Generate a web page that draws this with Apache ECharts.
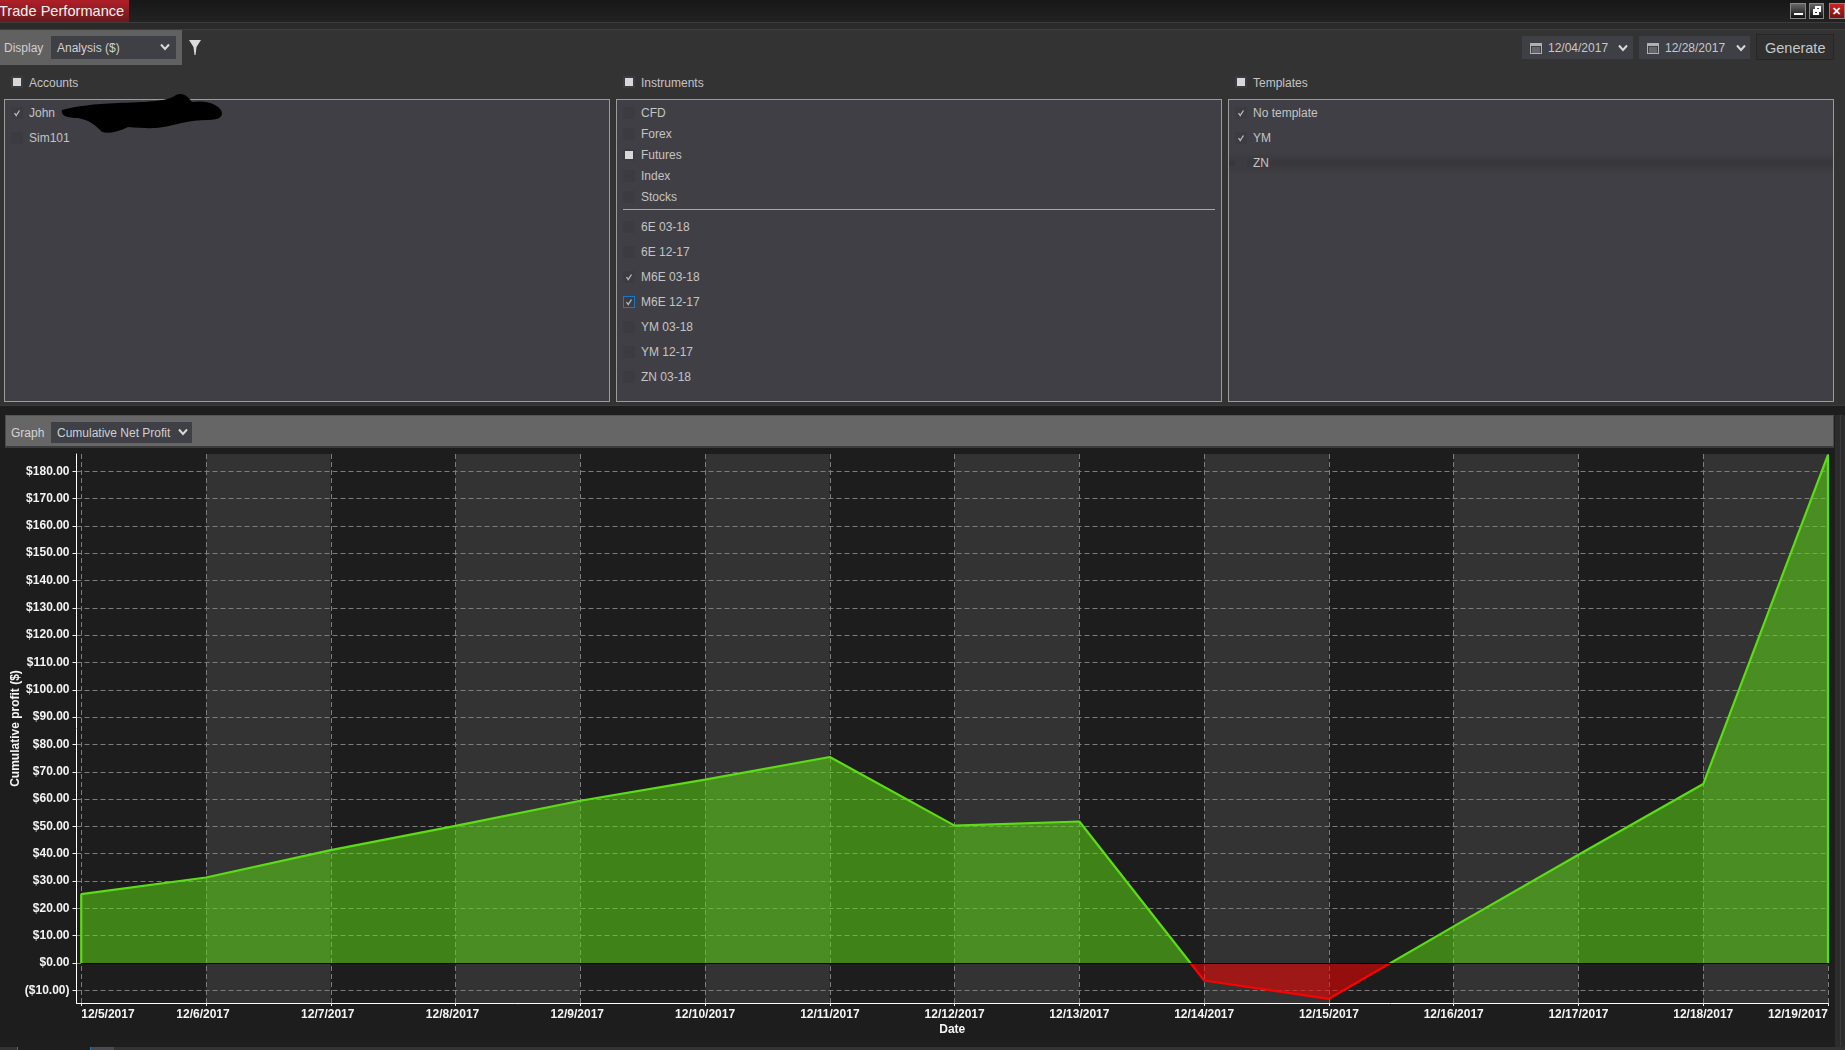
<!DOCTYPE html>
<html><head><meta charset="utf-8">
<script src="https://cdn.jsdelivr.net/npm/echarts@6/dist/echarts.min.js"></script>
<style>
html,body{margin:0;padding:0;width:1845px;height:1050px;overflow:hidden;background:#1e1e1e;font-family:"Liberation Sans",Arial,sans-serif}
.a{position:absolute;box-sizing:border-box}
.t{position:absolute;white-space:nowrap;color:#c4c4c4;font-size:12px;line-height:16px;transform:translateY(-50%)}
#chart{position:absolute;left:0;top:448px;width:1834px;height:592px}
svg{position:absolute;overflow:visible}
</style></head><body>
<div id="ui"></div>
<div id="chart"></div>
<script>
// Chart data
const dateLabels = ['12/5/2017','12/6/2017','12/7/2017','12/8/2017','12/9/2017','12/10/2017','12/11/2017','12/12/2017','12/13/2017','12/14/2017','12/15/2017','12/16/2017','12/17/2017','12/18/2017','12/19/2017'];
const dayIndex = [0,0,1,2,3,4,5,6,7,8,9,10,11,12,13,14,14];
const cumulativeProfit = [0,25.2,31.3,41.3,50.2,59.4,67.1,75.4,50.3,51.8,-6.4,-13.1,13.4,39.6,65.5,186,0];
const dayTicks = [0,1,2,3,4,5,6,7,8,9,10,11,12,13,14];
const profitTicks = [-10,0,10,20,30,40,50,60,70,80,90,100,110,120,130,140,150,160,170,180];

// Panel lists
const accounts = ['John','Sim101'];
const instrumentTypes = ['CFD','Forex','Futures','Index','Stocks'];
const instruments = ['6E 03-18','6E 12-17','M6E 03-18','M6E 12-17','YM 03-18','YM 12-17','ZN 03-18'];
const templates = ['No template','YM','ZN'];

const ui = document.getElementById('ui');
function box(x,y,w,h,css){const d=document.createElement('div');d.className='a';d.style.cssText=`left:${x}px;top:${y}px;width:${w}px;height:${h}px;`+(css||'');ui.appendChild(d);return d;}
function text(s,x,y,size,color){const d=document.createElement('div');d.className='t';d.textContent=s;d.style.left=x+'px';d.style.top=y+'px';if(size)d.style.fontSize=size+'px';if(color)d.style.color=color;ui.appendChild(d);return d;}
function svg(x,y,w,h,inner){const d=document.createElement('div');d.innerHTML=`<svg xmlns="http://www.w3.org/2000/svg" style="left:${x}px;top:${y}px" width="${w}" height="${h}" viewBox="0 0 ${w} ${h}">${inner}</svg>`;ui.appendChild(d);}
function chev(x,y,c){svg(x,y,10,8,`<polyline points="1,1.5 5,6 9,1.5" fill="none" stroke="${c||'#d8d8d8'}" stroke-width="2"/>`);}
function cb(x,yc,state){ // checkbox tile: '', 'check', 'square', 'focus'
  box(x,yc-6,12,12,'background:#3b3b41;'+(state==='focus'?'border:1px solid #1a78c8;':''));
  if(state==='square')box(x+2,yc-4,8,8,'background:#d8d8d8');
  if(state==='check'||state==='focus')svg(x+3,yc-3,6,6,'<polyline points="0.5,3 2.2,5.5 5.5,0.5" fill="none" stroke="#bdbdbd" stroke-width="1.3"/>');
}
function cal(x,y){svg(x,y,12,11,'<rect x="0.5" y="0.5" width="11" height="10" fill="none" stroke="#b0b0b0"/><rect x="0" y="0" width="12" height="3" fill="#b0b0b0"/><path d="M2 5H10M2 7H10M2 9H10" stroke="#8d8d8d"/>');}

// background
box(0,0,1845,22,'background:linear-gradient(#171717,#222)');
box(0,22,1845,7,'background:#2a2a2a;border-top:1px solid #3c3c3c');
box(0,29,1845,376,'background:#333;border-top:1px solid #3e3e3e');
box(0,405,1845,10,'background:#1e1e1e;border-top:1px solid #3a3a3a');
box(1834,415,11,635,'background:#2c2c2c;border-left:1px solid #1e1e1e');
box(1840,415,1,635,'background:#3a3a3a');

// title bar
box(0,0,129,22,'background:linear-gradient(#b01f27,#6b191e)');
text('Trade Performance',-1,10.5,14.6,'#f2f2f2');
box(1790,3,16,16,'background:linear-gradient(#666,#111);border:1px solid #888');
box(1794,13,9,2,'background:#fff');
box(1809,3,15,16,'background:linear-gradient(#666,#111);border:1px solid #888');
box(1813,9,6,6,'border:2px solid #fff');box(1815,6,6,6,'border:2px solid #fff');
box(1829,3,16,16,'background:linear-gradient(#c22,#711);border:1px solid #888');
text('✕',1832,11,11,'#fff').style.fontWeight='bold';

// display row
box(0,30,182,35,'background:#616161');
text('Display',4,48,12,'#cfcfcf');
box(51,36,125,23,'background:#3f3f46');
text('Analysis ($)',57,47.5,12,'#d0d0d0');
chev(160,43);
svg(189,40,12,15,'<polygon points="0,0 12,0 7.5,7 6.5,15 5.5,15 4.5,7" fill="#dcdcdc"/>');

// dates and generate
box(1522,36,111,23,'background:#3f3f46');cal(1530,43);text('12/04/2017',1548,47.5,12,'#c8c8c8');chev(1618,44);
box(1639,36,111,23,'background:#3f3f46');cal(1647,43);text('12/28/2017',1665,47.5,12,'#c8c8c8');chev(1736,44);
box(1756,34,78,26,'background:#303030;border:1px solid #262626');
text('Generate',1765,47.5,14.5,'#c8c8c8');

// section headers
[[11,29,'Accounts'],[623,641,'Instruments'],[1235,1253,'Templates']].forEach(h=>{cb(h[0],82,'square');text(h[2],h[1],82.5);});
[[4,606],[616,606],[1228,606]].forEach(p=>box(p[0],99,p[1],303,'background:#3f3f45;border:1px solid #9b9b9b'));

// accounts
cb(11,112.5,'check');text(accounts[0],29,112.7);
svg(58,94,170,40,'<path d="M4 16 C20 12 35 10 60 9 C85 8 110 8 118 1 C126 -2 130 3 134 8 C150 6 158 10 163 16 C166 22 162 26 150 26 C130 26 118 31 105 33 C95 35 85 34 70 33 C60 38 50 40 44 38 C38 32 34 27 20 24 C10 24 2 22 4 16 Z" fill="#000"/>');
cb(11,137.7,'');text(accounts[1],29,137.7);

// instruments
const typeY=[112.7,133.7,154.7,175.7,196.7];
instrumentTypes.forEach((s,i)=>{cb(623,typeY[i],s==='Futures'?'square':'');text(s,641,typeY[i]);});
box(623,209,592,1,'background:#a8a8a8');
const instrY=[226.7,251.7,276.7,301.7,326.7,351.7,376.7];
instruments.forEach((s,i)=>{cb(623,instrY[i],s==='M6E 03-18'?'check':s==='M6E 12-17'?'focus':'');text(s,641,instrY[i]);});

// templates
const tmplY=[112.7,137.7,163];
box(1229,152,604,22,'background:linear-gradient(#3f3f45,#37373b 50%,#3f3f45)');
templates.forEach((s,i)=>{cb(1235,tmplY[i],i<2?'check':'');text(s,1253,tmplY[i]);});

// graph header
box(5,415,1829,33,'background:#666;border:1px solid #4a4a4a;border-bottom:2px solid #3a3a3a;border-top-color:#555');
text('Graph',11,432.5,12,'#d4d4d4');
box(51,422,141,21,'background:#3f3f46');
text('Cumulative Net Profit',57,432.5,12,'#d0d0d0');
chev(178,428);

// bottom strip
box(0,1047,1845,3,'background:#333');
box(17,1047,1,3,'background:#1a78c8');box(18,1047,72,3,'background:#1e1e1e');box(90,1047,1,3,'background:#1a78c8');box(91,1047,23,3,'background:#4a4a50');

// chart
const axisFont = {fontFamily:'"Liberation Sans",Arial,sans-serif',fontWeight:'bold',fontSize:12,color:'#f4f4f4'};
const seriesData = dayIndex.map((d,i)=>[d,cumulativeProfit[i]]);
const chart = echarts.init(document.getElementById('chart'),null,{renderer:'canvas'});
chart.setOption({
  animation:false,
  backgroundColor:'#1d1d1d',
  grid:{left:76.5,right:6,top:6,bottom:37,outerBoundsMode:'none'},
  xAxis:{
    type:'value',min:-0.038,max:14,
    name:'Date',nameLocation:'middle',nameGap:20.5,nameMoveOverlap:false,
    nameTextStyle:axisFont,
    axisLine:{onZero:false,lineStyle:{color:'#fff',width:1}},
    axisTick:{customValues:dayTicks,length:3,lineStyle:{color:'#eee'}},
    axisLabel:Object.assign({},axisFont,{customValues:dayTicks,margin:6,alignMinLabel:'left',alignMaxLabel:'right',hideOverlap:false,showMinLabel:true,showMaxLabel:true,
      formatter:v=>{const s=dateLabels[v];return (v>=1&&v<=4)?`{s|${s}}`:s;},
      rich:{s:Object.assign({},axisFont,{padding:[0,6,0,0]})}}),
    splitLine:{show:true,lineStyle:{color:'#7c7c7c',type:[5,3],width:1}},
    splitArea:{show:true,areaStyle:{color:['#1d1d1d','#333333']}}
  },
  yAxis:{
    type:'value',min:-14.63,max:186.3,z:1,
    name:'Cumulative profit ($)',nameLocation:'middle',nameGap:55,nameRotate:90,nameMoveOverlap:false,
    nameTextStyle:axisFont,
    axisLine:{show:true,onZero:false,lineStyle:{color:'#fff',width:1}},
    axisTick:{show:true,customValues:profitTicks,length:4,lineStyle:{color:'#eee'}},
    axisLabel:Object.assign({},axisFont,{customValues:profitTicks,margin:7,
      formatter:v=>v<0?`($${Math.abs(v)}.00)`:`$${v}.00`}),
    splitLine:{show:true,lineStyle:{color:'#7c7c7c',type:[5,3],width:1}}
  },
  visualMap:{show:false,type:'piecewise',dimension:1,seriesIndex:0,pieces:[{min:0,max:200,color:'#5cdc14'},{min:-50,max:0,color:'#ff0000'}]},
  series:[{
    type:'line',data:seriesData,showSymbol:false,symbol:'none',smooth:false,
    lineStyle:{width:2.2},
    areaStyle:{opacity:0.53},
    markLine:{silent:true,symbol:'none',label:{show:false},lineStyle:{color:'#000',width:1,type:'solid'},
      data:[[{coord:[dayTicks[0],0]},{coord:[dayTicks[dayTicks.length-1],0]}]]}
  }]
});
</script>
</body></html>
